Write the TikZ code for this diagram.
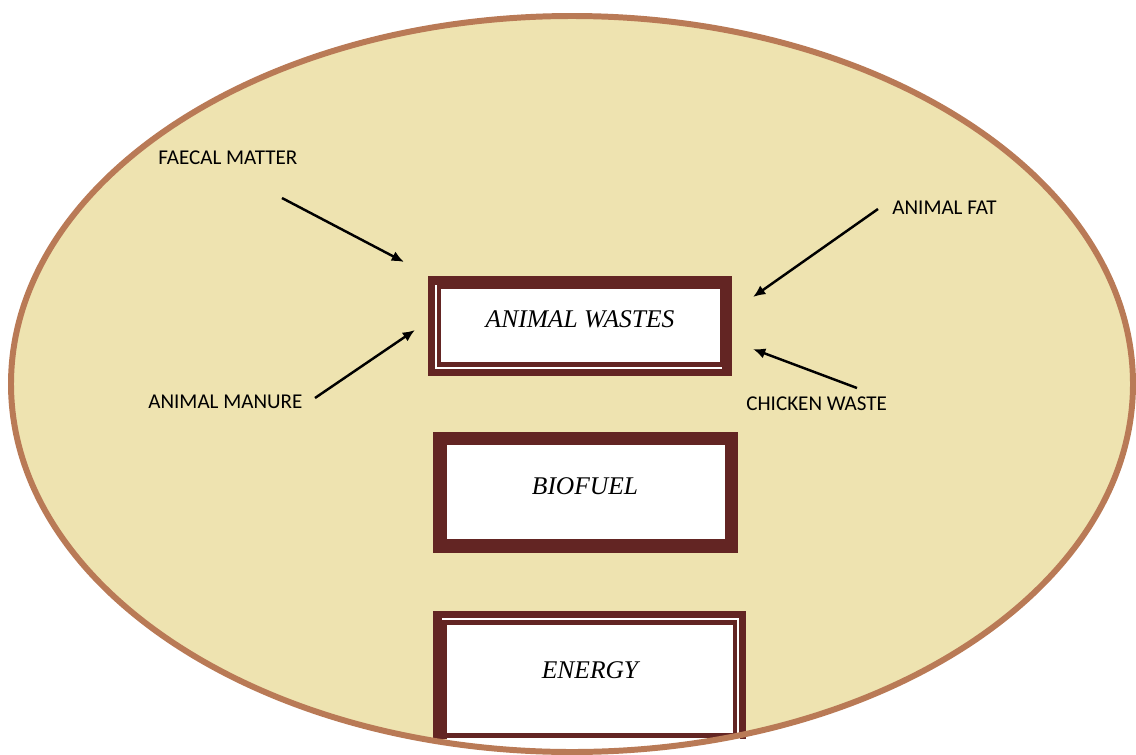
\documentclass[tikz,border=0pt]{standalone}
\usepackage{fontspec}
\setmainfont{Liberation Serif}
\newfontfamily\labelfont{Carlito}
\usepackage{xcolor}
\usetikzlibrary{arrows.meta}
\definecolor{sand}{HTML}{EEE3B0}
\definecolor{rim}{HTML}{B97A56}
\definecolor{frame}{HTML}{632523}

\tikzset{
  boxtext/.style={font=\fontsize{14.5}{16}\selectfont\itshape, inner sep=0pt},
  source/.style={font=\labelfont\fontsize{12}{14}\selectfont, anchor=west, inner sep=0pt},
  feed/.style={-{Latex[length=7pt,width=6pt]}, line width=1.4pt}
}

\begin{document}
\begin{tikzpicture}[x=0.02cm, y=-0.02cm]
  \useasboundingbox (0,0) rectangle (1136,754);

  % Draw the oval background
  \fill[sand] (572,384) ellipse [x radius=561, y radius=368];

  % Animal wastes box
  \fill[frame] (428,276) rectangle (732,376);
  \draw[white, line width=1.1pt] (436,285) -- (436,368) -- (722,368);
  \fill[white] (441,289) rectangle (720,362);
  \node[boxtext] (wastes) at (580,319) {ANIMAL WASTES};

  % Biofuel box
  \fill[frame] (433,432) rectangle (738,553);
  \fill[white] (447,445) rectangle (725,539);
  \node[boxtext] (biofuel) at (585,486) {BIOFUEL};

  % Energy box
  \fill[frame] (433,611) rectangle (746,739);
  \draw[white, line width=1.1pt] (442,619) -- (738,619) -- (738,739);
  \fill[white] (447,625) rectangle (733,733);
  \fill[white] (447,738) rectangle (740,760);
  \node[boxtext] (energy) at (590,670) {ENERGY};

  % Rim of the oval on top
  \draw[rim, line width=3.4pt] (572,384) ellipse [x radius=561, y radius=368];

  % Sources
  \node[source] (faecal) at (158,158) {FAECAL MATTER};
  \node[source] (fat) at (892,208) {ANIMAL FAT};
  \node[source] (manure) at (148,402) {ANIMAL MANURE};
  \node[source] (chicken) at (746,404) {CHICKEN WASTE};

  \coordinate (faecalS) at (282,198);
  \coordinate (faecalE) at (404,262);
  \coordinate (manureS) at (315,398);
  \coordinate (manureE) at (415,330);
  \coordinate (fatS) at (878,209);
  \coordinate (fatE) at (753,297);
  \coordinate (chickenS) at (857,388);
  \coordinate (chickenE) at (753,349);

  \draw[feed] (faecalS) -- (faecalE);
  \draw[feed] (manureS) -- (manureE);
  \draw[feed] (fatS) -- (fatE);
  \draw[feed] (chickenS) -- (chickenE);
\end{tikzpicture}
\end{document}
